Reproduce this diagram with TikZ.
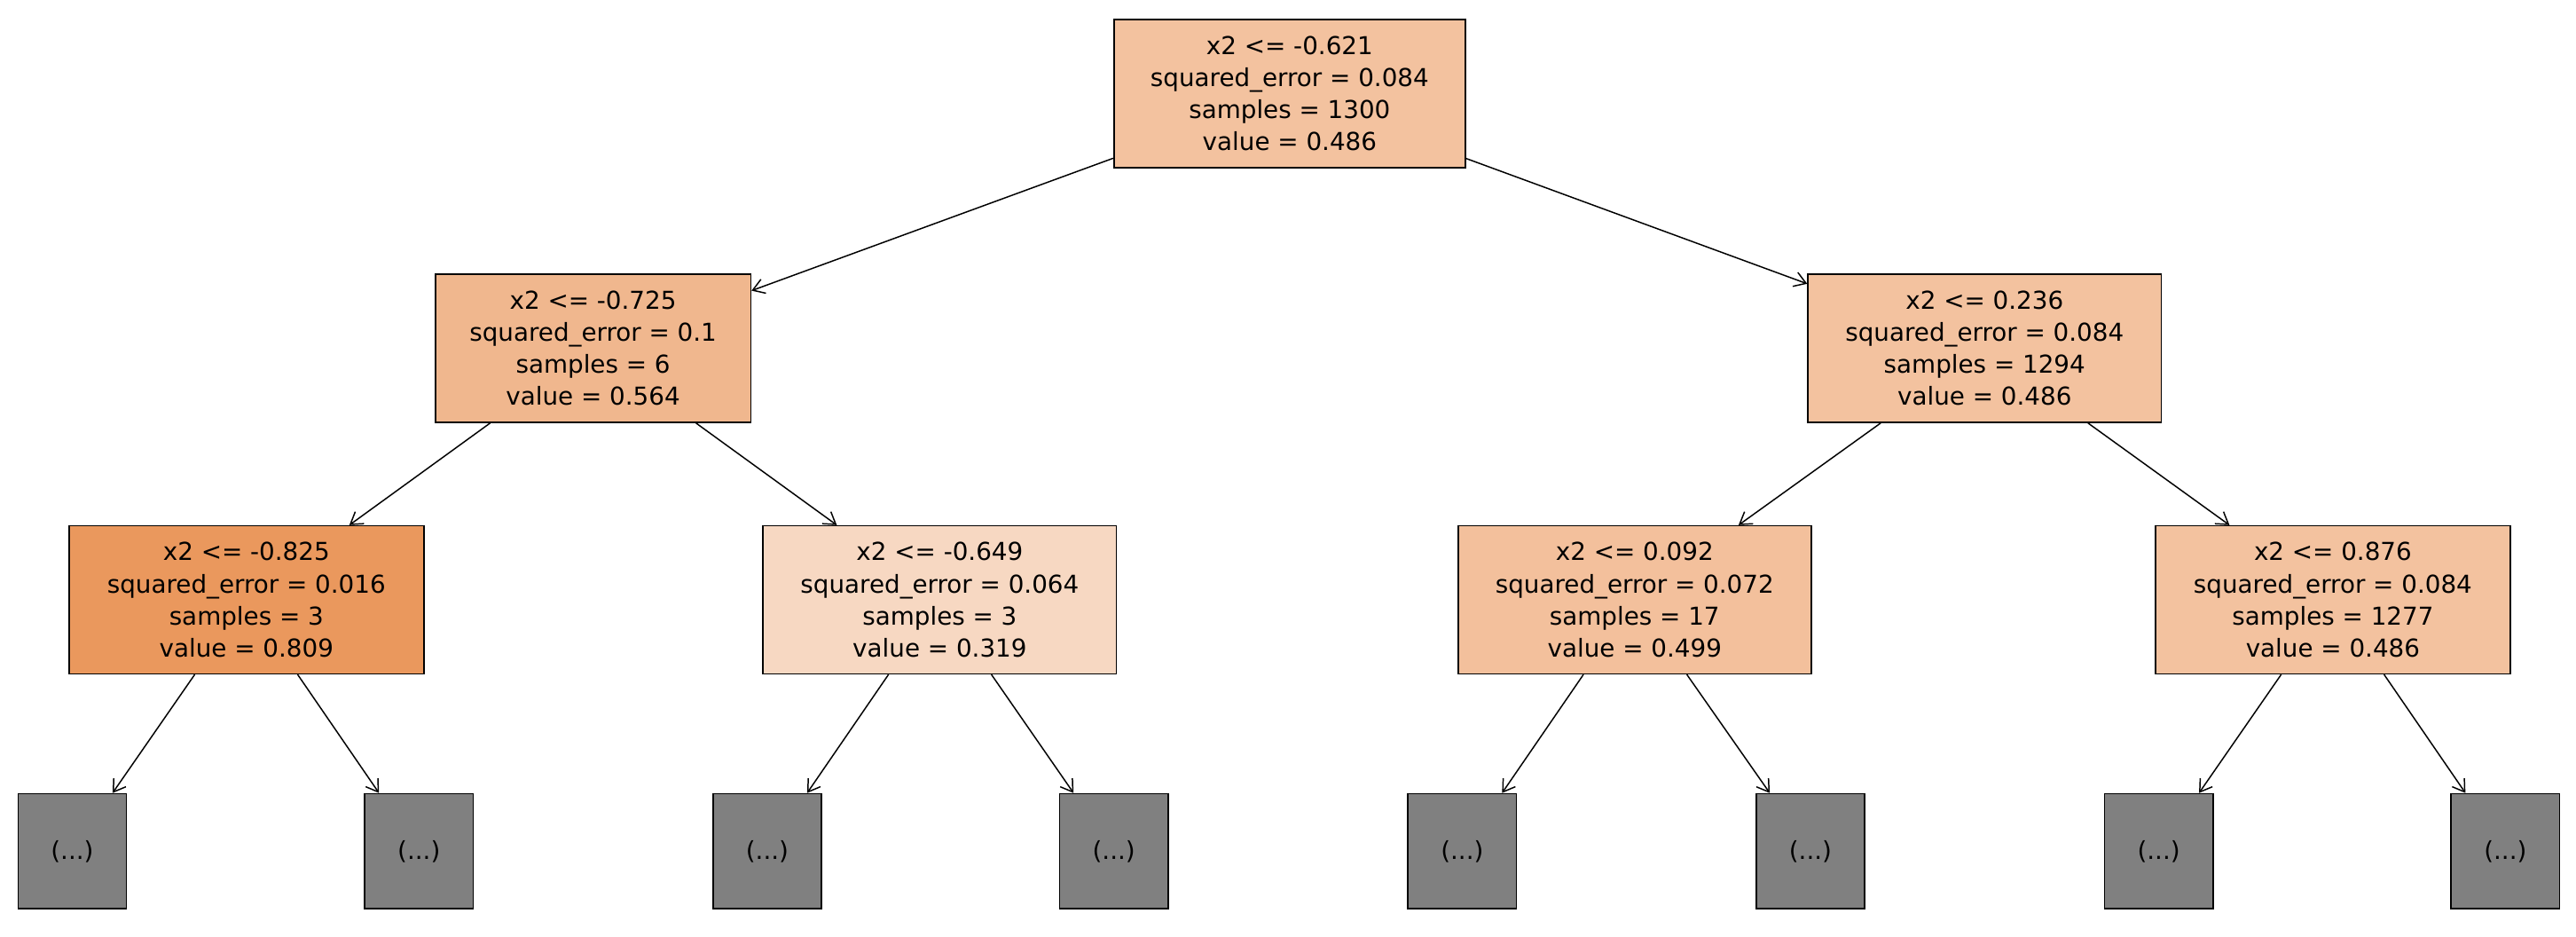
\documentclass[tikz,border=0pt]{standalone}
\usepackage{fontspec}
\setmainfont{DejaVu Sans}
\usetikzlibrary{arrows.meta}
\definecolor{c0}{HTML}{F3C29F}
\definecolor{c1}{HTML}{F0B78E}
\definecolor{cA}{HTML}{EA985D}
\definecolor{cB}{HTML}{F7D8C2}
\definecolor{cC}{HTML}{F3C09C}
\definecolor{gr}{HTML}{808080}
\begin{document}
\begin{tikzpicture}[x=1pt,y=-1pt,
  box/.style={draw=black,line width=0.9pt,minimum width=214pt,minimum height=90pt,align=center,inner sep=0pt,font=\fontsize{15}{19.5}\selectfont},
  leaf/.style={draw=black,fill=gr,line width=0.9pt,minimum width=66pt,minimum height=70pt,inner sep=0pt,font=\fontsize{15}{19.5}\selectfont},
  arr/.style={-{Straight Barb[length=7pt,width=9pt]},line width=0.8pt}]
\useasboundingbox (0,0) rectangle (1568,570);
\node[box,fill=c0] (r) at (785,57) {x2 <= -0.621\\squared\_error = 0.084\\samples = 1300\\value = 0.486};
\node[box,fill=c1,minimum width=192pt] (l) at (361,212) {x2 <= -0.725\\squared\_error = 0.1\\samples = 6\\value = 0.564};
\node[box,fill=c0,minimum width=215pt] (rr) at (1208,212) {x2 <= 0.236\\squared\_error = 0.084\\samples = 1294\\value = 0.486};
\node[box,fill=cA,minimum width=216pt] (a) at (150,365) {x2 <= -0.825\\squared\_error = 0.016\\samples = 3\\value = 0.809};
\node[box,fill=cB,minimum width=215pt] (b) at (572,365) {x2 <= -0.649\\squared\_error = 0.064\\samples = 3\\value = 0.319};
\node[box,fill=cC,minimum width=215pt] (c) at (995,365) {x2 <= 0.092\\squared\_error = 0.072\\samples = 17\\value = 0.499};
\node[box,fill=c0,minimum width=216pt] (d) at (1420,365) {x2 <= 0.876\\squared\_error = 0.084\\samples = 1277\\value = 0.486};
\foreach \n/\x in {a1/44,a2/255,b1/467,b2/678,c1/890,c2/1102,d1/1314,d2/1525}
  \node[leaf] (\n) at (\x,518) {(...)};
\draw[arr] (r) -- (l);
\draw[arr] (r) -- (rr);
\draw[arr] (l) -- (a);
\draw[arr] (l) -- (b);
\draw[arr] (rr) -- (c);
\draw[arr] (rr) -- (d);
\foreach \p/\q in {a/a1,a/a2,b/b1,b/b2,c/c1,c/c2,d/d1,d/d2}
  \draw[arr] (\p) -- (\q);
\end{tikzpicture}
\end{document}
